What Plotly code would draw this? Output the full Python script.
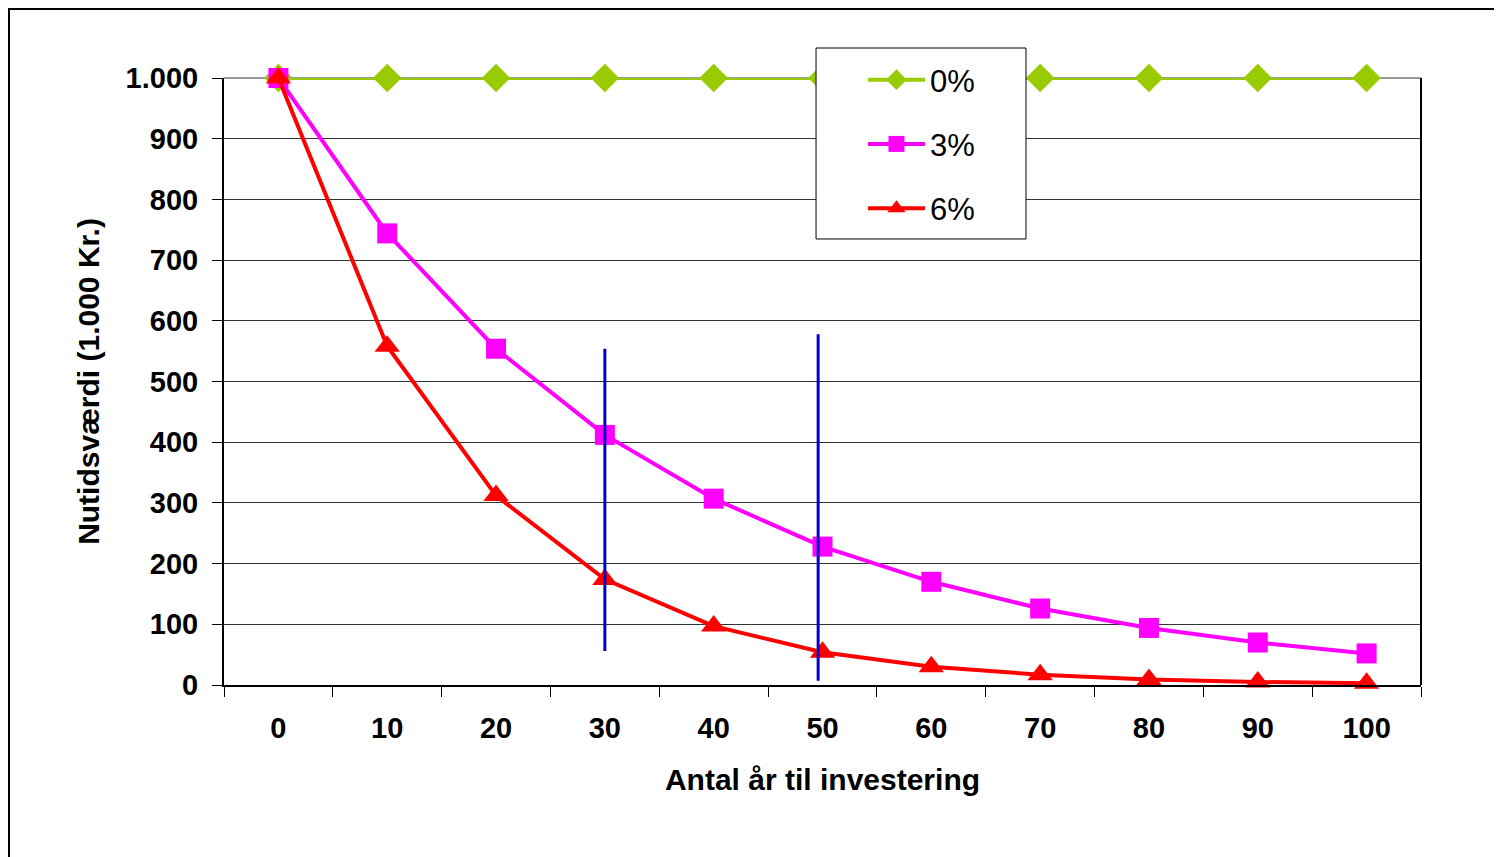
import plotly.graph_objects as go

years = [0, 10, 20, 30, 40, 50, 60, 70, 80, 90, 100]
rate0 = [1000, 1000, 1000, 1000, 1000, 1000, 1000, 1000, 1000, 1000, 1000]
rate3 = [1000, 744, 554, 412, 307, 228, 170, 126, 94, 70, 52]
rate6 = [1000, 558, 312, 174, 97, 54, 30, 17, 9, 5, 3]
series_names = ["0%", "3%", "6%"]

marker_x = [30, 49.6]
marker_y0 = [56, 7]
marker_y1 = [554, 578]

y_ticks = [0, 100, 200, 300, 400, 500, 600, 700, 800, 900, 1000]
y_ticktext = ["0", "100", "200", "300", "400", "500", "600", "700", "800", "900", "1.000"]

FONT = "Liberation Sans, Arial, sans-serif"

fig = go.Figure()
styles = [
    dict(color="#99CC00", symbol="diamond", size=22),
    dict(color="#FF00FF", symbol="square", size=20),
    dict(color="#FF0000", symbol="triangle-up", size=22),
]
for i, (name, vals) in enumerate(zip(series_names, [rate0, rate3, rate6])):
    st = styles[i]
    fig.add_trace(go.Scatter(
        x=years, y=vals, name=name, mode="lines+markers",
        legendgroup=name, cliponaxis=False,
        line=dict(color=st["color"], width=4),
        marker=dict(color=st["color"], symbol=st["symbol"], size=st["size"]),
    ))

for xv, a, b in zip(marker_x, marker_y0, marker_y1):
    fig.add_trace(go.Scatter(
        x=[xv, xv], y=[a, b], mode="lines", showlegend=False,
        line=dict(color="#0000CC", width=3), hoverinfo="skip",
    ))

fig.update_layout(
    width=1502, height=857,
    margin=dict(l=216, r=89, t=70, b=180),
    paper_bgcolor="white", plot_bgcolor="white",
    font=dict(family=FONT, color="black"),
    showlegend=True,
    legend=dict(
        x=0.5338, y=1.0412, xanchor="left", yanchor="top",
        bgcolor="rgba(0,0,0,0)", borderwidth=0,
        font=dict(size=31, family=FONT),
        tracegroupgap=21,
        itemwidth=57,
    ),
    xaxis=dict(
        range=[-5, 105], tickvals=years, ticktext=[str(v) for v in years],
        ticks="", showgrid=False, zeroline=False,
        showline=True, linecolor="black", linewidth=2, mirror=False,
        tickfont=dict(size=29, family=FONT, weight="bold"),
        ticklabelstandoff=16,
        minor=dict(tick0=-5, dtick=10, ticks="outside", ticklen=10,
                   tickcolor="black", tickwidth=1, showgrid=False),
        title=dict(text="<b>Antal år til investering</b>",
                   font=dict(size=30, family=FONT), standoff=26),
    ),
    yaxis=dict(
        range=[0, 1000], tickvals=y_ticks, ticktext=y_ticktext,
        ticks="outside", ticklen=10, tickcolor="black",
        showgrid=True, gridcolor="#333333", gridwidth=1, zeroline=False,
        showline=True, linecolor="black", linewidth=2,
        tickfont=dict(size=29, family=FONT, weight="bold"),
        ticklabelstandoff=8,
        title=dict(text="<b>Nutidsværdi (1.000 Kr.)</b>",
                   font=dict(size=30, family=FONT), standoff=17),
    ),
    shapes=[
        dict(type="rect", xref="paper", yref="paper", x0=1, x1=1, y0=0, y1=1,
             line=dict(color="black", width=2)),
        dict(type="line", xref="paper", yref="paper", x0=0, x1=1, y0=1, y1=1,
             line=dict(color="#333333", width=1), layer="below"),
        dict(type="rect", xref="paper", yref="paper",
             x0=(1 - 216) / 1197, x1=1.2, y0=(677 - 1) / 607, y1=-0.5,
             line=dict(color="black", width=2), layer="below"),
        dict(type="rect", xref="paper", yref="paper",
             x0=0.4946, x1=0.670, y0=0.7348, y1=1.0494,
             fillcolor="white", line=dict(color="black", width=1), layer="above"),
    ],
)

fig.write_html("out.html")
